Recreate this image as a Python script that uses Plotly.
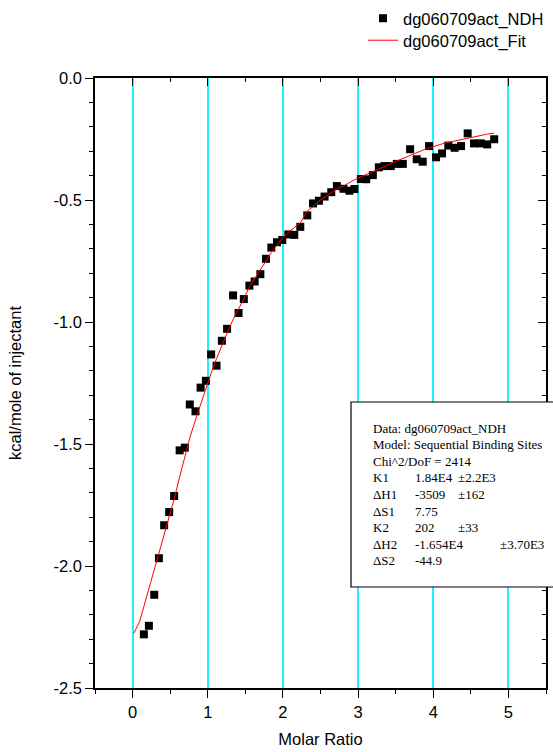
import plotly.graph_objects as go

# Integrated heats per injection (molar ratio vs kcal/mole of injectant)
molar_ratio = [0.150, 0.217, 0.288, 0.350, 0.420, 0.487, 0.553, 0.626, 0.695, 0.761,
               0.837, 0.905, 0.976, 1.045, 1.117, 1.188, 1.257, 1.337, 1.410, 1.480,
               1.554, 1.624, 1.700, 1.775, 1.846, 1.921, 1.992, 2.072, 2.151, 2.231,
               2.324, 2.400, 2.479, 2.554, 2.643, 2.718, 2.805, 2.885, 2.952, 3.037,
               3.108, 3.196, 3.276, 3.351, 3.435, 3.515, 3.595, 3.692, 3.780, 3.860,
               3.944, 4.037, 4.117, 4.200, 4.285, 4.369, 4.458, 4.542, 4.631, 4.718,
               4.811]
heat = [-2.280, -2.245, -2.118, -1.968, -1.833, -1.779, -1.713, -1.526, -1.515, -1.338,
        -1.366, -1.269, -1.241, -1.133, -1.179, -1.077, -1.028, -0.891, -0.963, -0.906,
        -0.851, -0.834, -0.804, -0.741, -0.695, -0.673, -0.664, -0.641, -0.643, -0.610,
        -0.563, -0.514, -0.503, -0.486, -0.468, -0.443, -0.454, -0.462, -0.455, -0.414,
        -0.415, -0.398, -0.366, -0.361, -0.361, -0.352, -0.352, -0.292, -0.333, -0.343,
        -0.279, -0.325, -0.309, -0.277, -0.286, -0.279, -0.227, -0.268, -0.268, -0.272,
        -0.251]

# Sequential binding sites model curve
fit_ratio = [0.017, 0.093] + molar_ratio
fit_heat = [-2.276, -2.228,
            -2.166, -2.093, -2.015, -1.947, -1.871, -1.798, -1.726, -1.635, -1.550, -1.475,
            -1.400, -1.335, -1.270, -1.210, -1.150, -1.095, -1.045, -0.990, -0.948, -0.905,
            -0.855, -0.820, -0.785, -0.750, -0.715, -0.685, -0.657, -0.632, -0.612, -0.594,
            -0.545, -0.528, -0.505, -0.490, -0.472, -0.455, -0.443, -0.428, -0.417, -0.405,
            -0.395, -0.382, -0.372, -0.362, -0.351, -0.340, -0.330, -0.317, -0.306, -0.296,
            -0.287, -0.277, -0.270, -0.264, -0.258, -0.252, -0.246, -0.240, -0.235, -0.230,
            -0.226]

x_ticks = [0, 1, 2, 3, 4, 5]
y_ticks = [0.0, -0.5, -1.0, -1.5, -2.0, -2.5]
y_tick_labels = ["0.0", "-0.5", "-1.0", "-1.5", "-2.0", "-2.5"]

# Fit results table: (label, value, error, error column)
fit_header = ["Data: dg060709act_NDH",
              "Model: Sequential Binding Sites",
              "Chi^2/DoF = 2414"]
fit_params = [("K1", "1.84E4", "\u00b12.2E3", 0),
              ("\u0394H1", "-3509", "\u00b1162", 0),
              ("\u0394S1", "7.75", "", 0),
              ("K2", "202", "\u00b133", 0),
              ("\u0394H2", "-1.654E4", "\u00b13.70E3", 1),
              ("\u0394S2", "-44.9", "", 0)]

W, H = 553, 752
L, R, T, B = 95, 7, 78, 64
SANS = "Liberation Sans, Arial, sans-serif"
SERIF = "Liberation Serif, Times New Roman, serif"
FS = 16.5
CYAN = "#22f0ff"


def px(xp):
    return (xp - L) / (W - L - R)


def py(yp):
    return (H - B - yp) / (H - T - B)


fig = go.Figure()
fig.add_trace(go.Scatter(
    x=molar_ratio, y=heat, mode="markers", name="dg060709act_NDH", legend="legend",
    marker=dict(symbol="square", size=8, color="black", line=dict(width=0)),
))
fig.add_trace(go.Scatter(
    x=fit_ratio, y=fit_heat, mode="lines", name="dg060709act_Fit", legend="legend2",
    line=dict(color="#ff0000", width=1),
))
# carrier for the mirrored top/right axes
fig.add_trace(go.Scatter(x=[], y=[], xaxis="x2", yaxis="y2", showlegend=False))

axis_common = dict(showline=True, linecolor="black", linewidth=1.5,
                   tickcolor="black", tickwidth=1.2, zeroline=False,
                   tickfont=dict(family=SANS, size=FS, color="black"))

legend_common = dict(xanchor="left", yanchor="top", bgcolor="rgba(0,0,0,0)",
                     font=dict(family=SANS, size=FS, color="black"))

fig.update_layout(
    width=W, height=H,
    margin=dict(l=L, r=R, t=T, b=B, autoexpand=False),
    paper_bgcolor="white", plot_bgcolor="white",
    font=dict(family=SANS, size=FS, color="black"),
    xaxis=dict(range=[-0.5, 5.5], tickvals=x_ticks, ticks="outside", ticklen=8,
               showgrid=True, gridcolor=CYAN, gridwidth=1.5,
               minor=dict(dtick=0.5, tick0=0, ticks="outside", ticklen=4,
                          tickcolor="black", showgrid=False),
               title=dict(text="Molar Ratio", font=dict(family=SANS, size=FS), standoff=14),
               **axis_common),
    yaxis=dict(range=[-2.5, 0.0], tickvals=y_ticks, ticktext=y_tick_labels,
               ticks="outside", ticklen=8, showgrid=False,
               minor=dict(dtick=0.1, tick0=0, ticks="outside", ticklen=4,
                          tickcolor="black", showgrid=False),
               title=dict(text="kcal/mole of injectant", font=dict(family=SANS, size=FS),
                          standoff=28),
               **axis_common),
    xaxis2=dict(range=[-0.5, 5.5], overlaying="x", side="top", anchor="y",
                tickvals=x_ticks, ticks="inside", ticklen=8, showticklabels=False,
                showgrid=False,
                minor=dict(dtick=0.5, tick0=0, ticks="inside", ticklen=4,
                           tickcolor="black", showgrid=False),
                **axis_common),
    yaxis2=dict(range=[-2.5, 0.0], overlaying="y", side="right", anchor="x",
                tickvals=y_ticks, ticks="inside", ticklen=8, showticklabels=False,
                showgrid=False,
                minor=dict(dtick=0.1, tick0=0, ticks="inside", ticklen=4,
                           tickcolor="black", showgrid=False),
                **axis_common),
    legend=dict(x=px(363), y=py(1), **legend_common),
    legend2=dict(x=px(363), y=py(23), **legend_common),
    showlegend=True,
)

# Fit results box
fig.add_shape(type="rect", xref="paper", yref="paper",
              x0=px(351), x1=px(562), y0=py(587), y1=py(402),
              line=dict(color="black", width=1.2), fillcolor="white", layer="above")

line_y0, line_dy = 428, 16.6
col_x = [372, 414, 457, 499]


def box_text(text, xp, row):
    fig.add_annotation(x=px(xp), y=py(line_y0 + row * line_dy), xref="paper", yref="paper",
                       text=text, showarrow=False, xanchor="left", yanchor="middle",
                       xshift=-1, font=dict(family=SERIF, size=13, color="black"))


for i, t in enumerate(fit_header):
    box_text(t, col_x[0], i)
for j, (name, val, err, ecol) in enumerate(fit_params):
    row = len(fit_header) + j
    box_text(name, col_x[0], row)
    box_text(val, col_x[1], row)
    if err:
        box_text(err, col_x[2 + ecol], row)

fig.write_html("out.html")
